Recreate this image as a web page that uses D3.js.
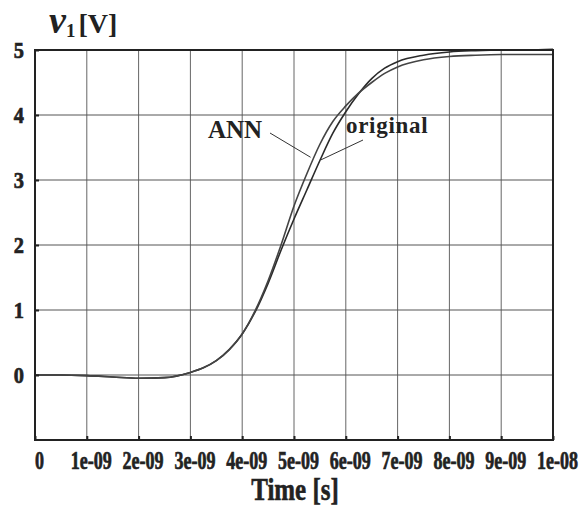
<!DOCTYPE html>
<html>
<head>
<meta charset="utf-8">
<script src="https://cdn.jsdelivr.net/npm/d3@7"></script>
<style>
  body { margin: 0; background: #fff; }
  text { font-family: "Liberation Serif", "DejaVu Serif", serif; font-weight: bold; fill: #222; }
</style>
</head>
<body>
<svg id="chart" width="582" height="509"></svg>
<script>
// time in ns, voltages
const timeNs = [0, 0.5, 1, 1.5, 2, 2.5, 3, 3.25, 3.5, 3.75, 4, 4.25, 4.5, 4.75, 5, 5.25, 5.5, 5.75, 6, 6.25, 6.5, 6.75, 7, 7.5, 8, 8.5, 9, 9.5, 10];
const original = [0, 0, -0.01, -0.03, -0.05, -0.04, 0.04, 0.11, 0.22, 0.39, 0.63, 0.97, 1.41, 1.92, 2.4, 2.85, 3.3, 3.72, 4.05, 4.33, 4.56, 4.72, 4.82, 4.92, 4.97, 4.99, 5.0, 5.0, 5.01];
const ann = [0, 0, -0.01, -0.03, -0.05, -0.04, 0.04, 0.11, 0.22, 0.39, 0.63, 0.99, 1.45, 2.0, 2.6, 3.1, 3.55, 3.9, 4.14, 4.34, 4.5, 4.64, 4.74, 4.85, 4.9, 4.92, 4.93, 4.93, 4.93];

const xTicks = [0, 1e-9, 2e-9, 3e-9, 4e-9, 5e-9, 6e-9, 7e-9, 8e-9, 9e-9, 1e-8];
const xTickLabels = ["0", "1e-09", "2e-09", "3e-09", "4e-09", "5e-09", "6e-09", "7e-09", "8e-09", "9e-09", "1e-08"];
const yTicks = [0, 1, 2, 3, 4, 5];
const yGrid = [-1, 0, 1, 2, 3, 4, 5];

const svg = d3.select("#chart");
svg.selectAll("*").remove();

const plotL = 35, plotT = 50, plotR = 553, plotB = 440;

const x = d3.scaleLinear().domain([0, 1e-8]).range([plotL, plotR]);
const y = d3.scaleLinear().domain([-1, 5]).range([plotB, plotT]);

// grid
svg.append("g").selectAll("line").data(xTicks).join("line")
  .attr("x1", d => x(d)).attr("x2", d => x(d))
  .attr("y1", plotT).attr("y2", plotB)
  .attr("stroke", "#666").attr("stroke-width", 1);
svg.append("g").selectAll("line").data(yGrid).join("line")
  .attr("x1", plotL).attr("x2", plotR)
  .attr("y1", d => y(d)).attr("y2", d => y(d))
  .attr("stroke", "#555").attr("stroke-width", 1);

// curves
const line = d3.line()
  .x((d, i) => x(timeNs[i] * 1e-9))
  .y(d => y(d))
  .curve(d3.curveMonotoneX);

svg.append("path").datum(original)
  .attr("fill", "none").attr("stroke", "#2a2a2a").attr("stroke-width", 1.6)
  .attr("d", line);
svg.append("path").datum(ann)
  .attr("fill", "none").attr("stroke", "#444").attr("stroke-width", 1.6)
  .attr("d", line);

// axes with inward ticks
const xAxis = svg.append("g")
  .attr("transform", `translate(0,${plotB})`)
  .call(d3.axisBottom(x).tickValues(xTicks).tickFormat((d, i) => xTickLabels[i]).tickSizeInner(-4).tickSizeOuter(0).tickPadding(11));
xAxis.select(".domain").remove();
xAxis.selectAll("line").attr("stroke", "#222").attr("stroke-width", 2);
xAxis.selectAll("text")
  .attr("font-size", 25).attr("fill", "#222")
  .attr("stroke", "#222").attr("stroke-width", 0.7)
  .attr("dy", "0.71em")
  .attr("transform", "translate(4,0) scale(0.72,1)");

const yAxis = svg.append("g")
  .attr("transform", `translate(${plotL},0)`)
  .call(d3.axisLeft(y).tickValues(yTicks).tickFormat(d3.format("d")).tickSizeInner(-4).tickSizeOuter(0).tickPadding(13));
yAxis.select(".domain").remove();
yAxis.selectAll("line").attr("stroke", "#222").attr("stroke-width", 2);
yAxis.selectAll("text")
  .attr("font-size", 24).attr("fill", "#222")
  .attr("stroke", "#222").attr("stroke-width", 0.7)
  .attr("transform", "scale(0.85,1)");

// frame
svg.append("rect")
  .attr("x", plotL).attr("y", plotT)
  .attr("width", plotR - plotL).attr("height", plotB - plotT)
  .attr("fill", "none").attr("stroke", "#222").attr("stroke-width", 2);

// curve labels with leader lines
svg.append("text").attr("x", 208).attr("y", 138).attr("font-size", 25).text("ANN");
svg.append("line").attr("x1", 270).attr("y1", 133).attr("x2", x(5.32e-9)).attr("y2", y(3.35))
  .attr("stroke", "#333").attr("stroke-width", 1);
svg.append("text").attr("x", 346).attr("y", 133).attr("font-size", 23)
  .attr("letter-spacing", 0.7).text("original");
svg.append("line").attr("x1", 363).attr("y1", 140).attr("x2", x(5.52e-9)).attr("y2", y(3.31))
  .attr("stroke", "#333").attr("stroke-width", 1);

// axis titles
const yl = svg.append("text").attr("x", 49).attr("y", 33);
yl.append("tspan").attr("font-style", "italic").attr("font-size", 38).text("v");
yl.append("tspan").attr("font-size", 19).attr("dy", 4).text("1");
yl.append("tspan").attr("font-size", 28).attr("dy", -4).attr("dx", 3).text("[V]");

svg.append("text")
  .attr("x", 295).attr("y", 500)
  .attr("text-anchor", "middle").attr("font-size", 32)
  .attr("stroke", "#222").attr("stroke-width", 0.6)
  .attr("transform", "translate(295,0) scale(0.78,1) translate(-295,0)")
  .text("Time [s]");
</script>
</body>
</html>
